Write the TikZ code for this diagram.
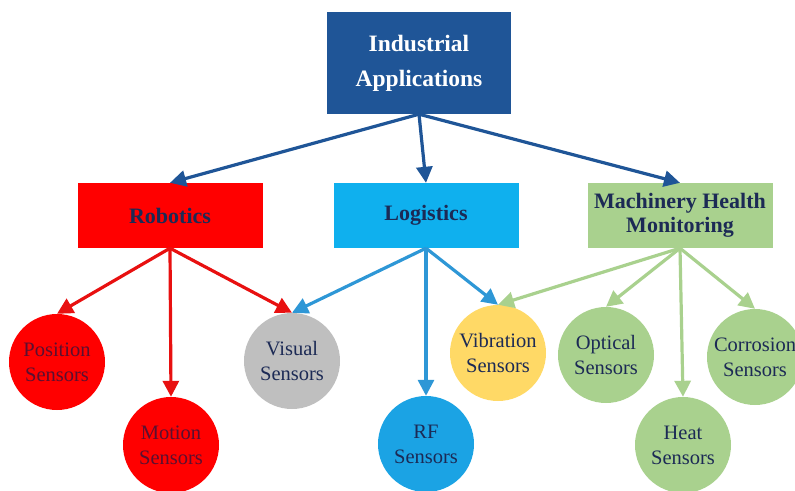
\documentclass[tikz,border=0pt]{standalone}
\usepackage{fontspec}
\setmainfont{Liberation Serif}
\usetikzlibrary{arrows.meta}

\definecolor{appblue}{HTML}{1F5597}
\definecolor{robred}{HTML}{FF0000}
\definecolor{logblue}{HTML}{0FB0EE}
\definecolor{mhmgreen}{HTML}{A9D18E}
\definecolor{visgrey}{HTML}{BFBFBF}
\definecolor{vibyellow}{HTML}{FFD966}
\definecolor{rfblue}{HTML}{1BA3E4}
\definecolor{navytext}{HTML}{1C2A55}
\definecolor{redtext}{HTML}{5A1030}
\definecolor{redarrow}{HTML}{E81010}
\definecolor{bluearrow}{HTML}{2E97D6}

\begin{document}
\begin{tikzpicture}[x=1pt, y=-1pt,
  box/.style = {shape=rectangle, align=center, inner sep=1pt,
    minimum width=185pt, minimum height=65pt, text=navytext,
    font=\bfseries\fontsize{22}{24}\selectfont},
  sensor/.style = {shape=circle, align=center, inner sep=0pt,
    minimum size=96pt, text=navytext,
    font=\fontsize{20.5}{25}\selectfont},
  link/.style = {line width=3.2pt, -{Triangle[length=16pt,width=16pt]}}]
  \useasboundingbox (0,0) rectangle (795,490);

  % top of the tree
  \node[box, fill=appblue, text=white, minimum width=184pt, minimum height=102pt,
    font=\bfseries\fontsize{23.5}{35}\selectfont] (ind) at (419,63) {Industrial\\Applications};

  % application areas
  \node[box, fill=robred] (rob) at (170,215.5) {Robotics};
  \node[box, fill=logblue] (log) at (426,215.5) {Logistics};
  \node[box, fill=mhmgreen] (mhm) at (680,215.5) {Machinery Health\\Monitoring};

  % sensors
  \node[sensor, fill=robred, text=redtext] (pos) at (57,362) {Position\\Sensors};
  \node[sensor, fill=robred, text=redtext] (mot) at (171,445) {Motion\\Sensors};
  \node[sensor, fill=visgrey] (vis) at (292,361) {Visual\\Sensors};
  \node[sensor, fill=rfblue] (rf) at (426,444) {RF\\Sensors};
  \node[sensor, fill=vibyellow] (vib) at (498,353) {Vibration\\Sensors};
  \node[sensor, fill=mhmgreen] (opt) at (606,355) {Optical\\Sensors};
  \node[sensor, fill=mhmgreen] (heat) at (683,445) {Heat\\Sensors};
  \node[sensor, fill=mhmgreen] (cor) at (755,357) {Corrosion\\Sensors};

  % connectors
  \draw[link, appblue] (ind.south) -- (rob.north);
  \draw[link, appblue] (ind.south) -- (log.north);
  \draw[link, appblue] (ind.south) -- (mhm.north);

  \draw[link, redarrow] (rob.south) -- (pos.north);
  \draw[link, redarrow] (rob.south) -- (mot.north);
  \draw[link, redarrow] (rob.south) -- (vis.north);

  \draw[link, bluearrow] (log.south) -- (vis.north);
  \draw[link, bluearrow] (log.south) -- (rf.north);
  \draw[link, bluearrow] (log.south) -- (vib.north);

  \draw[link, mhmgreen] (mhm.south) -- (vib.north);
  \draw[link, mhmgreen] (mhm.south) -- (opt.north);
  \draw[link, mhmgreen] (mhm.south) -- (heat.north);
  \draw[link, mhmgreen] (mhm.south) -- (cor.north);
\end{tikzpicture}
\end{document}
